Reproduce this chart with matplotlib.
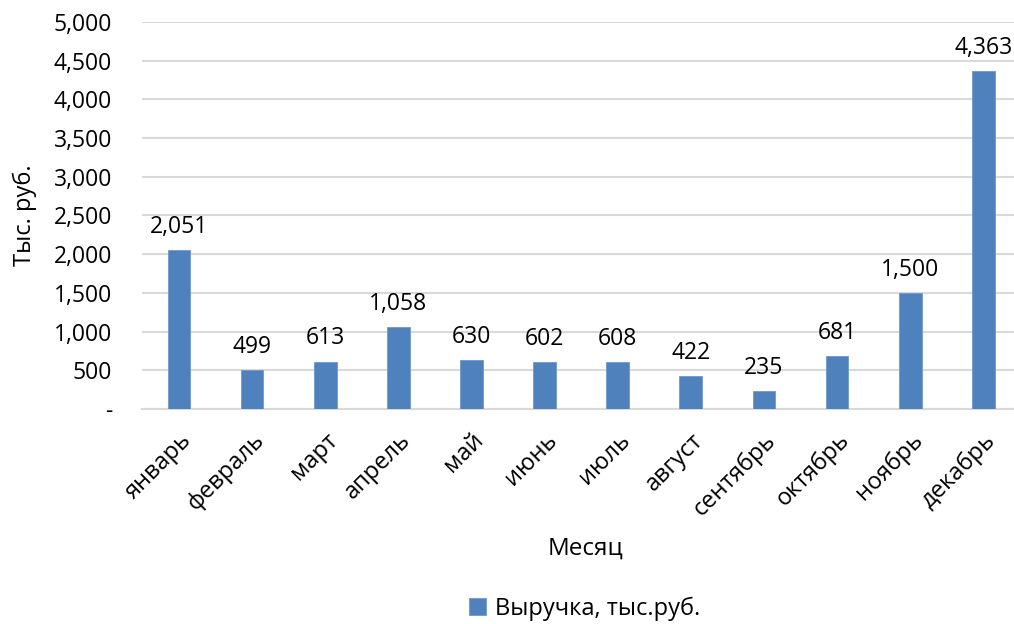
import matplotlib
matplotlib.use('Agg')
import matplotlib.pyplot as plt
from matplotlib.ticker import FuncFormatter

plt.rcParams['font.family'] = ['Open Sans', 'DejaVu Sans']

months = ['январь', 'февраль', 'март', 'апрель', 'май', 'июнь',
          'июль', 'август', 'сентябрь', 'октябрь', 'ноябрь', 'декабрь']
revenue = [2051, 499, 613, 1058, 630, 602, 608, 422, 235, 681, 1500, 4363]

fig = plt.figure(figsize=(10.14, 6.24), dpi=100)
ax = fig.add_axes([0.1405, 0.3446, 0.8595, 0.6201])

x = range(len(months))
bars = ax.bar(x, revenue, width=0.31, color='#4F81BD', edgecolor='#6f98cc',
              linewidth=0.6, zorder=3, label='Выручка, тыс.руб.')

# value labels above each bar
for xi, v in zip(x, revenue):
    ax.annotate(f'{v:,}', (xi, v), xytext=(0, 8), textcoords='offset points',
                ha='center', va='bottom', fontsize=16.5)

ax.set_ylim(0, 5000)
ax.set_xlim(-0.5, 11.42)
ax.set_yticks(range(0, 5001, 500))
ax.yaxis.set_major_formatter(FuncFormatter(lambda v, p: '-' if v == 0 else f'{int(v):,}'))
ax.grid(axis='y', color='#d9d9d9', linewidth=1.5, zorder=0)
ax.set_axisbelow(True)

for s in ['top', 'right', 'left']:
    ax.spines[s].set_visible(False)
ax.spines['bottom'].set_color('#d9d9d9')
ax.spines['bottom'].set_linewidth(1.5)

ax.set_xticks(list(x))
ax.set_xticklabels(months, rotation=45, ha='right', rotation_mode='anchor', fontsize=17)
ax.tick_params(axis='x', length=0, pad=14)
ax.tick_params(axis='y', length=0, pad=22, labelsize=16.5)

ax.set_ylabel('Тыс. руб.', fontsize=17, labelpad=12)
fig.text(0.577, 0.121, 'Месяц', ha='center', va='center', fontsize=17.5)

fig.legend(handles=[bars], loc='center', bbox_to_anchor=(0.577, 0.025),
           frameon=False, fontsize=17, handlelength=0.7, handleheight=0.7,
           handletextpad=0.4)

fig.savefig('out.png', dpi=100)
